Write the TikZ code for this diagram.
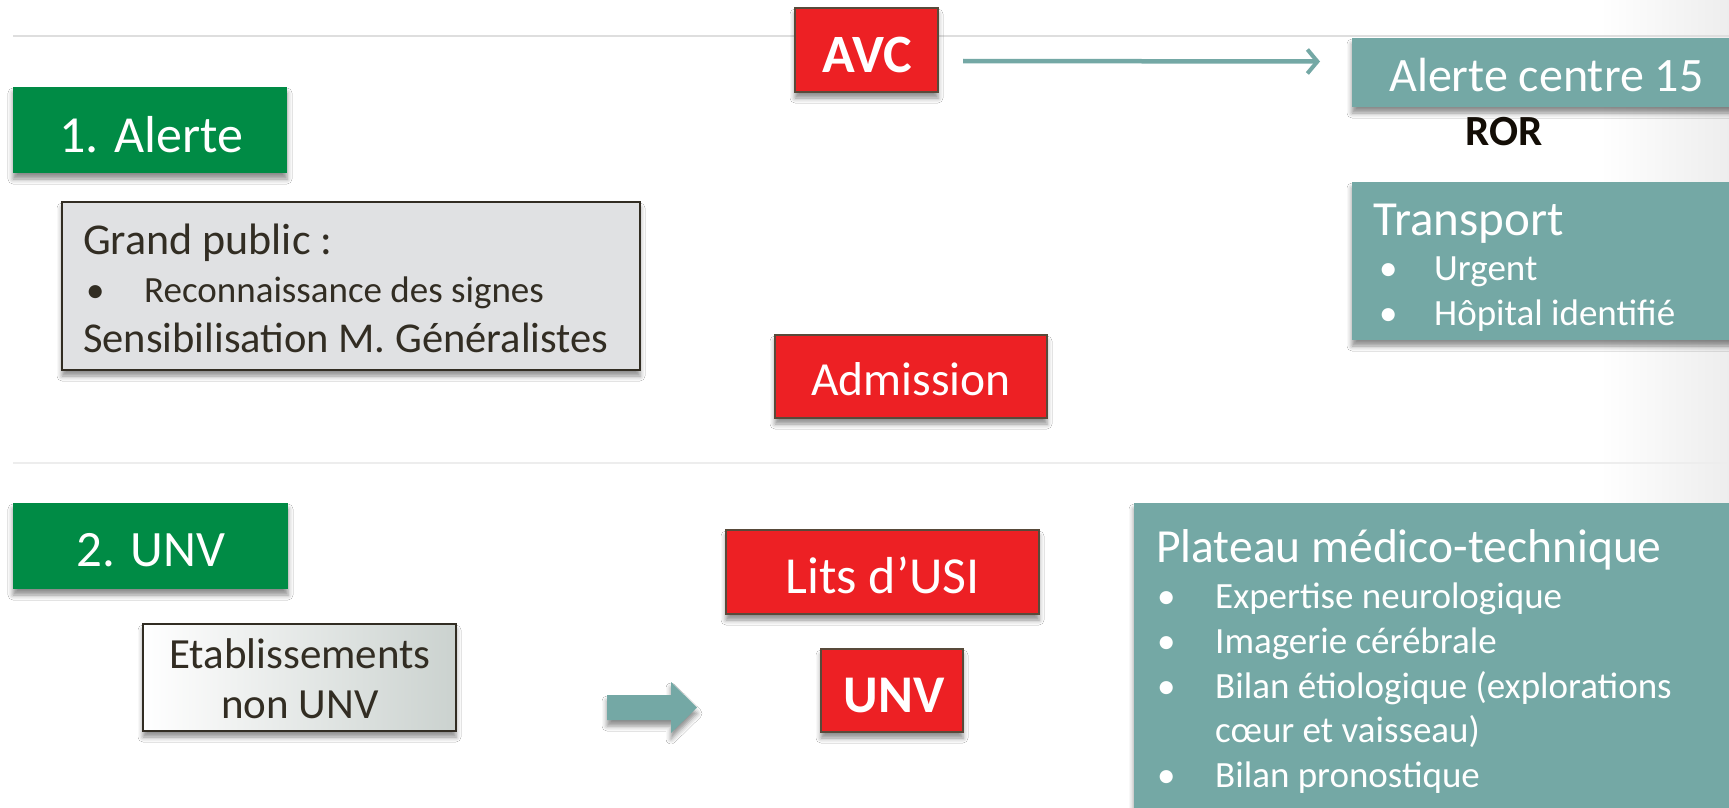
\documentclass[tikz,border=0pt]{standalone}
\usepackage{fontspec}
\setmainfont{Carlito}
\usetikzlibrary{arrows.meta,shadows.blur}
\definecolor{cred}{RGB}{237,32,36}
\definecolor{credb}{RGB}{88,74,58}
\definecolor{cgreen}{RGB}{0,139,69}
\definecolor{cteal}{RGB}{116,168,165}
\definecolor{cgrayfill}{RGB}{224,225,227}
\definecolor{cdark}{RGB}{50,45,35}
\definecolor{cline}{RGB}{222,222,222}
\definecolor{cetab}{RGB}{203,210,207}
\newcommand{\fs}[1]{\fontsize{#1}{#1}\selectfont}
\begin{document}
\begin{tikzpicture}[x=1pt,y=-1pt,
  shad/.style={blur shadow={shadow xshift=0pt,shadow yshift=-6pt,shadow blur radius=5pt,shadow opacity=45}},
  box/.style={rectangle,inner sep=0pt,outer sep=0pt,shad},
  redbox/.style={box,fill=cred,draw=credb,line width=2.5pt},
  greenbox/.style={box,fill=cgreen},
  tealbox/.style={box,fill=cteal},
  wtxt/.style={text=white,inner sep=0pt},
  ktxt/.style={text=cdark,inner sep=0pt},
  tarrow/.style={draw=cteal,line width=4.5pt,-{Straight Barb[length=10pt,width=24pt,line width=4pt]}}
]
\useasboundingbox (0,0) rectangle (1729,808);
\fill[white] (0,0) rectangle (1729,808);
\shade[left color=white,right color=black!7] (1600,0) rectangle (1729,808);
% separator lines
\draw[cline,line width=1.5pt] (13,36) -- (1729,36);
\draw[black!7,line width=2pt] (13,463) -- (1729,463);

% section 1
\node[greenbox,minimum width=274pt,minimum height=86pt] (alerte1) at (150,130) {};
\node[wtxt,anchor=base] (alerte1t) at (151,152) {\fs{52}1. Alerte};

\node[box,fill=cgrayfill,draw=cdark,line width=2pt,minimum width=578pt,minimum height=168pt] (grand) at (351,286) {};
\node[ktxt,anchor=base west] (grand1) at (83,254) {\fs{44}Grand public :};
\node[ktxt,anchor=base west] (grand2b) at (86,302) {\fs{37}•};
\node[ktxt,anchor=base west] (grand2) at (144,302) {\fs{37}Reconnaissance des signes};
\node[ktxt,anchor=base west] (grand3) at (83,352) {\fs{42.5}Sensibilisation M. Généralistes};

\node[redbox,minimum width=143pt,minimum height=84pt] (avc) at (866.5,50) {};
\node[wtxt,anchor=base] (avct) at (867,72) {\fs{54}\bfseries AVC};

\node[tealbox,minimum width=388pt,minimum height=69pt] (a15) at (1546,72.5) {};
\node[wtxt,anchor=base west] (a15t) at (1389,91) {\fs{48}Alerte centre 15};

\node[ktxt,anchor=base west,text=black!90!brown] (ror) at (1465,145) {\fs{43}\bfseries ROR};

\node[tealbox,minimum width=388pt,minimum height=158pt] (transport) at (1546,261) {};
\node[wtxt,anchor=base west] (tr1) at (1373,235) {\fs{49}Transport};
\node[wtxt,anchor=base west] (tr2b) at (1379,280) {\fs{37}•};
\node[wtxt,anchor=base west] (tr2) at (1434,280) {\fs{37}Urgent};
\node[wtxt,anchor=base west] (tr3b) at (1379,325) {\fs{37}•};
\node[wtxt,anchor=base west] (tr3) at (1434,325) {\fs{37}Hôpital identifié};

\node[redbox,minimum width=272pt,minimum height=83pt] (adm) at (911,376.5) {};
\node[wtxt,anchor=base] (admt) at (911,395) {\fs{47.5}Admission};

\draw[tarrow] ([xshift=25pt,yshift=-11pt]avc.east) -- ([xshift=-32pt,yshift=11pt]a15.west);

% section 2
\node[greenbox,minimum width=275pt,minimum height=86pt] (unv2) at (150.5,546) {};
\node[wtxt,anchor=base] (unv2t) at (151,566) {\fs{51}2. UNV};

\node[box,left color=white,right color=cetab,draw=cdark,line width=2pt,minimum width=313pt,minimum height=107pt] (etab) at (299.5,677.5) {};
\node[ktxt,anchor=base] (etab1) at (300,668) {\fs{43}Etablissements};
\node[ktxt,anchor=base] (etab2) at (300,718) {\fs{43}non UNV};

\fill[cteal,shad] (607,695) -- (671,695) -- (671,682) -- (697,707.5) -- (671,733) -- (671,720) -- (607,720) -- cycle;

\node[redbox,minimum width=313pt,minimum height=84pt] (lits) at (882.5,572) {};
\node[wtxt,anchor=base] (litst) at (882.5,593) {\fs{52}Lits d’USI};

\node[redbox,minimum width=142pt,minimum height=83pt] (unv) at (892,690.5) {};
\node[wtxt,anchor=base] (unvt) at (894,712) {\fs{53}\bfseries UNV};

\node[tealbox,minimum width=606pt,minimum height=317pt] (plateau) at (1437,661.5) {};
\node[wtxt,anchor=base west] (p0) at (1156,562) {\fs{47.5}Plateau médico-technique};
\node[wtxt,anchor=base west] (p1b) at (1157,608) {\fs{37}•};
\node[wtxt,anchor=base west] (p1) at (1215,608) {\fs{37}Expertise neurologique};
\node[wtxt,anchor=base west] (p2b) at (1157,653) {\fs{37}•};
\node[wtxt,anchor=base west] (p2) at (1215,653) {\fs{37}Imagerie cérébrale};
\node[wtxt,anchor=base west] (p3b) at (1157,698) {\fs{37}•};
\node[wtxt,anchor=base west] (p3) at (1215,698) {\fs{37}Bilan étiologique (explorations};
\node[wtxt,anchor=base west] (p4) at (1215,742) {\fs{37}cœur et vaisseau)};
\node[wtxt,anchor=base west] (p5b) at (1157,787) {\fs{37}•};
\node[wtxt,anchor=base west] (p5) at (1215,787) {\fs{37}Bilan pronostique};
\end{tikzpicture}
\end{document}
